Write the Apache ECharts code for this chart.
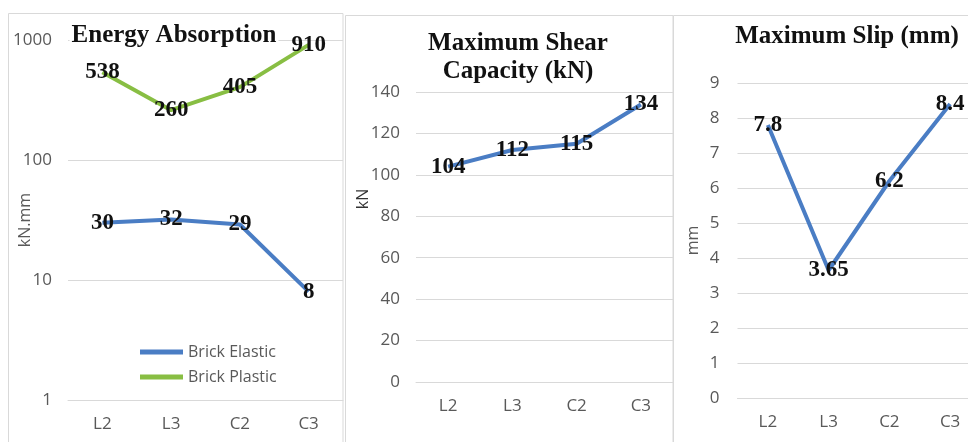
<!DOCTYPE html>
<html>
<head>
<meta charset="utf-8">
<script src="https://cdn.jsdelivr.net/npm/echarts@6/dist/echarts.min.js"></script>
<style>
  html, body { margin: 0; padding: 0; background: #fff; }
  #chart { width: 968px; height: 442px; }
</style>
</head>
<body>
<div id="chart"></div>
<script>
// Specimens shared by the three panels
const specimens = ['L2', 'L3', 'C2', 'C3'];

// Energy absorption (kN.mm), log scale
const brickElastic = [30, 32, 29, 8];
const brickPlastic = [538, 260, 405, 910];

// Maximum shear capacity (kN)
const shearCapacity = [104, 112, 115, 134];

// Maximum slip (mm)
const maxSlip = [7.8, 3.65, 6.2, 8.4];

const BLUE = '#4A7DC4';
const GREEN = '#88BE43';
const GRID_LINE = '#D9D9D9';
const TICK_TEXT = '#595959';
const SANS = '"Open Sans", "Liberation Sans", sans-serif';
const SERIF = '"Liberation Serif", "DejaVu Serif", serif';

const chart = echarts.init(document.getElementById('chart'), null, { renderer: 'canvas' });

const titleStyle = {
  fontFamily: SERIF, fontWeight: 'bold', fontSize: 25, color: '#111', lineHeight: 28
};

const pointLabel = {
  show: true,
  position: 'inside',
  fontFamily: SERIF,
  fontWeight: 'bold',
  fontSize: 23,
  color: '#111'
};

const tickLabel = { color: TICK_TEXT, fontFamily: SANS, fontSize: 17 };

function xAxisFor(gridIndex) {
  return {
    type: 'category',
    gridIndex: gridIndex,
    data: specimens,
    boundaryGap: true,
    axisLine: { show: true, lineStyle: { color: GRID_LINE } },
    axisTick: { show: false },
    axisLabel: Object.assign({ margin: 16 }, tickLabel)
  };
}

function lineSeries(name, data, color, axisIndex) {
  return {
    name: name,
    type: 'line',
    xAxisIndex: axisIndex,
    yAxisIndex: axisIndex,
    data: data,
    symbol: 'circle',
    symbolSize: 0.1,
    showSymbol: true,
    itemStyle: { color: color },
    lineStyle: { color: color, width: 4 },
    label: pointLabel,
    z: 3
  };
}

const option = {
  animation: false,
  backgroundColor: '#fff',
  graphic: [
    // panel frames
    { type: 'rect', shape: { x: 8.5, y: 13.5, width: 334.5, height: 440 },
      style: { fill: 'none', stroke: GRID_LINE, lineWidth: 1 }, z: -1 },
    { type: 'rect', shape: { x: 345.5, y: 15.5, width: 327.5, height: 440 },
      style: { fill: 'none', stroke: GRID_LINE, lineWidth: 1 }, z: -1 },
    { type: 'rect', shape: { x: 673.5, y: 15.5, width: 310, height: 440 },
      style: { fill: 'none', stroke: GRID_LINE, lineWidth: 1 }, z: -1 }
  ],
  title: [
    { text: 'Energy Absorption', left: 172, top: 22, textAlign: 'center',
      textStyle: titleStyle, backgroundColor: '#fff', padding: [0, 2, 0, 2] },
    { text: 'Maximum Shear\nCapacity (kN)', left: 518, top: 30, textAlign: 'center',
      textStyle: titleStyle, padding: 0 },
    { text: 'Maximum Slip (mm)', left: 847, top: 23, textAlign: 'center',
      textStyle: titleStyle, padding: 0 }
  ],
  legend: {
    orient: 'vertical',
    left: 135,
    top: 339,
    itemWidth: 43,
    itemHeight: 5,
    itemGap: 9,
    icon: 'rect',
    textStyle: { color: TICK_TEXT, fontFamily: SANS, fontSize: 16 },
    data: ['Brick Elastic', 'Brick Plastic']
  },
  grid: [
    { left: 68, right: 968 - 343, top: 40, bottom: 42, outerBoundsMode: 'none', containLabel: false },
    { left: 416, right: 968 - 673, top: 92, bottom: 60, outerBoundsMode: 'none', containLabel: false },
    { left: 737.5, right: 968 - 980.5, top: 83, bottom: 44, outerBoundsMode: 'none', containLabel: false }
  ],
  xAxis: [xAxisFor(0), xAxisFor(1), xAxisFor(2)],
  yAxis: [
    {
      type: 'log', gridIndex: 0, logBase: 10, min: 1, max: 1000,
      name: 'kN.mm', nameLocation: 'middle', nameGap: 35, nameRotate: 90, nameMoveOverlap: false,
      nameTextStyle: { color: TICK_TEXT, fontFamily: SANS, fontSize: 16 },
      axisLine: { show: false }, axisTick: { show: false },
      splitLine: { show: true, lineStyle: { color: GRID_LINE } },
      axisLabel: Object.assign({ margin: 16, formatter: function (v) { return String(v); } }, tickLabel)
    },
    {
      type: 'value', gridIndex: 1, min: 0, max: 140, interval: 20,
      name: 'kN', nameLocation: 'middle', nameGap: 45, nameRotate: 90, nameMoveOverlap: false,
      nameTextStyle: { color: '#333', fontFamily: SANS, fontSize: 16, padding: [0, 0, 0, 76] },
      axisLine: { show: false }, axisTick: { show: false },
      splitLine: { show: true, lineStyle: { color: GRID_LINE } },
      axisLabel: Object.assign({ margin: 16 }, tickLabel)
    },
    {
      type: 'value', gridIndex: 2, min: 0, max: 9, interval: 1,
      name: 'mm', nameLocation: 'middle', nameGap: 36, nameRotate: 90, nameMoveOverlap: false,
      nameTextStyle: { color: TICK_TEXT, fontFamily: SANS, fontSize: 16 },
      axisLine: { show: false }, axisTick: { show: false },
      splitLine: { show: true, lineStyle: { color: GRID_LINE } },
      axisLabel: Object.assign({ margin: 18 }, tickLabel)
    }
  ],
  series: [
    lineSeries('Brick Elastic', brickElastic, BLUE, 0),
    lineSeries('Brick Plastic', brickPlastic, GREEN, 0),
    lineSeries('Maximum Shear Capacity', shearCapacity, BLUE, 1),
    lineSeries('Maximum Slip', maxSlip, BLUE, 2)
  ]
};

chart.setOption(option);
</script>
</body>
</html>
